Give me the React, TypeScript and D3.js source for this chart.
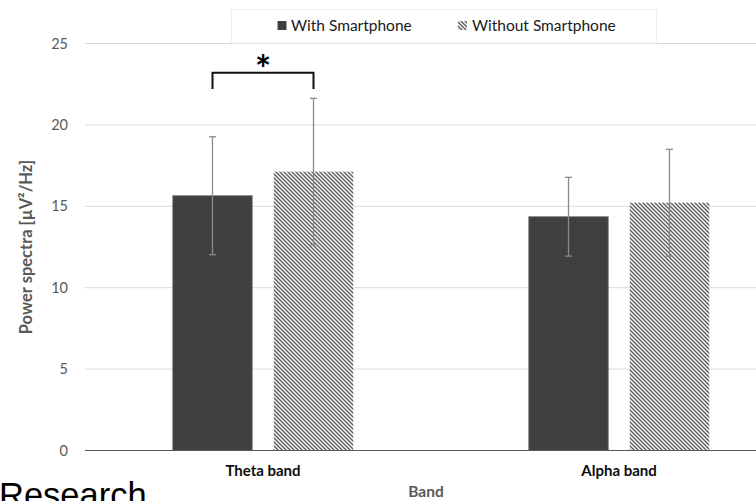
import React from "react";
import * as d3 from "d3";

const categories = ["Theta band", "Alpha band"];
const seriesNames = ["With Smartphone", "Without Smartphone"];
const withSmart = [15.65, 14.36];
const withoutSmart = [17.13, 15.22];
const withErr = [3.62, 2.42];
const withoutErr = [4.5, 3.28];
const yTicks = [0, 5, 10, 15, 20, 25];
const brackets = [{ category: "Theta band", level: 23.2, drop: 1.0, label: "*" }];

const W = 756;
const H = 501;
const FONT = "Lato, 'Open Sans', sans-serif";

export default function App() {
  const x0 = d3.scaleBand<string>().domain(categories).range([85, 797]).paddingInner(0).paddingOuter(0);
  const x1 = d3
    .scaleBand<string>()
    .domain(seriesNames)
    .range([0, x0.bandwidth()])
    .paddingInner(0.213)
    .paddingOuter(0.869);
  const y = d3.scaleLinear().domain([0, 25]).range([450.5, 43.5]);

  const values = [withSmart, withoutSmart];
  const errs = [withErr, withoutErr];

  return (
    <svg width={W} height={H} style={{ display: "block", position: "absolute", left: 0, top: 0 }}>
      <defs>
        <pattern id="hatch" width="4" height="4" patternUnits="userSpaceOnUse">
          <rect width="4" height="4" fill="#ffffff" />
          <path d="M-1,-1 L5,5 M-1,3 L1,5 M3,-1 L5,1" stroke="#5e5e5e" strokeWidth="1.45" />
        </pattern>
      </defs>
      <rect width={W} height={H} fill="#ffffff" />
      {/* gridlines */}
      {yTicks.filter((t) => t > 0).map((t) => (
        <line key={t} x1={85} x2={797} y1={y(t)} y2={y(t)} stroke="#d9d9d9" strokeWidth={1} />
      ))}
      {/* tick labels */}
      {yTicks.map((t) => (
        <text key={t} x={68} y={y(t) + 5} textAnchor="end" fontFamily={FONT} fontSize={14.5} fill="#595959">
          {t}
        </text>
      ))}
      {/* bars */}
      {categories.map((c, ci) =>
        seriesNames.map((s, si) => {
          const bx = (x0(c) as number) + (x1(s) as number);
          const bw = x1.bandwidth();
          const v = values[si][ci];
          return (
            <rect
              key={c + s}
              x={bx}
              y={y(v)}
              width={bw}
              height={y(0) - y(v)}
              fill={si === 0 ? "#404040" : "url(#hatch)"}
              stroke={si === 0 ? "#7a7a7a" : "none"}
              strokeWidth={si === 0 ? 0.8 : 0}
            />
          );
        })
      )}
      {/* error bars */}
      {categories.map((c, ci) =>
        seriesNames.map((s, si) => {
          const cx = (x0(c) as number) + (x1(s) as number) + x1.bandwidth() / 2;
          const v = values[si][ci];
          const e = errs[si][ci];
          const col = "#8a8a8a";
          return (
            <g key={"e" + c + s} stroke={col} strokeWidth={1.3}>
              <line x1={cx} x2={cx} y1={y(v + e)} y2={y(v - e)} />
              <line x1={cx - 3.5} x2={cx + 3.5} y1={y(v + e)} y2={y(v + e)} />
              <line x1={cx - 3.5} x2={cx + 3.5} y1={y(v - e)} y2={y(v - e)} />
            </g>
          );
        })
      )}
      {/* axis line */}
      <line x1={85} x2={797} y1={y(0)} y2={y(0)} stroke="#595959" strokeWidth={1.2} />
      {/* category labels */}
      {categories.map((c) => (
        <text
          key={c}
          x={(x0(c) as number) + x0.bandwidth() / 2}
          y={476}
          textAnchor="middle"
          fontFamily={FONT}
          fontWeight="bold"
          fontSize={15}
          fill="#0d0d0d"
        >
          {c}
        </text>
      ))}
      {/* axis titles */}
      <text x={426} y={497} textAnchor="middle" fontFamily={FONT} fontWeight="bold" fontSize={15.5} fill="#595959">
        Band
      </text>
      <text
        transform={`translate(32,247) rotate(-90)`}
        textAnchor="middle"
        fontFamily={FONT}
        fontWeight="bold"
        fontSize={16.5}
        fill="#595959"
      >
        Power spectra [µV²/Hz]
      </text>
      {/* significance bracket */}
      {brackets.map((b) => {
        const xa = (x0(b.category) as number) + (x1(seriesNames[0]) as number) + x1.bandwidth() / 2;
        const xb = (x0(b.category) as number) + (x1(seriesNames[1]) as number) + x1.bandwidth() / 2;
        const yl = y(b.level);
        const yd = y(b.level - b.drop);
        return (
          <g key={b.category}>
            <path d={`M${xa},${yd} L${xa},${yl} L${xb},${yl} L${xb},${yd}`} fill="none" stroke="#111" strokeWidth={2} />
            <text x={(xa + xb) / 2} y={yl + 10} textAnchor="middle" fontFamily={FONT} fontWeight="bold" fontSize={38} fill="#000">
              {b.label}
            </text>
          </g>
        );
      })}
      {/* legend */}
      <rect x={231.5} y={9.5} width={425} height={33.5} fill="#ffffff" stroke="#efefef" strokeWidth={1} />
      <rect x={277.5} y={21} width={9} height={9} fill="#404040" />
      <text x={291} y={31} fontFamily={FONT} fontSize={15.5} fill="#1a1a1a">
        {seriesNames[0]}
      </text>
      <rect x={458} y={21} width={9} height={9} fill="url(#hatch)" />
      <text x={472} y={31} fontFamily={FONT} fontSize={15.5} fill="#1a1a1a">
        {seriesNames[1]}
      </text>
      {/* overlapping caption fragment */}
      <text x={-1} y={507} fontFamily="'Liberation Sans', Arial, sans-serif" fontSize={34.5} fill="#000">
        Research
      </text>
    </svg>
  );
}
